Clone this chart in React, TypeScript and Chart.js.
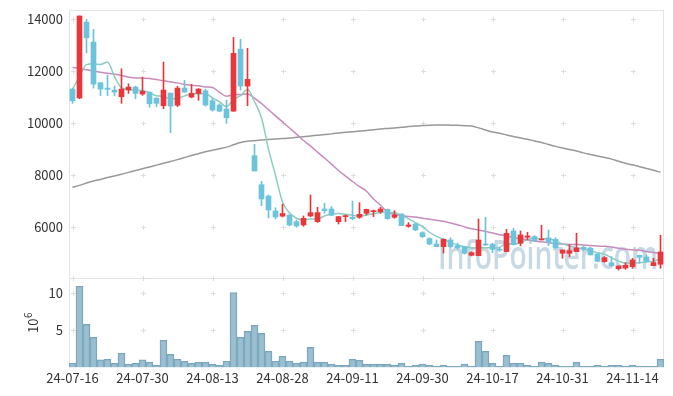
import React, { useEffect, useRef } from 'react';
import { Chart, registerables } from 'chart.js';

Chart.register(...registerables);

const dates = [
  '24-07-16', '24-07-17', '24-07-18', '24-07-19', '24-07-22', '24-07-23', '24-07-24', '24-07-25', '24-07-26', '24-07-29',
  '24-07-30', '24-07-31', '24-08-01', '24-08-02', '24-08-05', '24-08-06', '24-08-07', '24-08-08', '24-08-09', '24-08-12',
  '24-08-13', '24-08-14', '24-08-16', '24-08-19', '24-08-20', '24-08-21', '24-08-22', '24-08-23', '24-08-26', '24-08-27',
  '24-08-28', '24-08-29', '24-08-30', '24-09-02', '24-09-03', '24-09-04', '24-09-05', '24-09-06', '24-09-09', '24-09-10',
  '24-09-11', '24-09-12', '24-09-13', '24-09-19', '24-09-20', '24-09-23', '24-09-24', '24-09-25', '24-09-26', '24-09-27',
  '24-09-30', '24-10-02', '24-10-04', '24-10-07', '24-10-08', '24-10-10', '24-10-11', '24-10-14', '24-10-15', '24-10-16',
  '24-10-17', '24-10-18', '24-10-21', '24-10-22', '24-10-23', '24-10-24', '24-10-25', '24-10-28', '24-10-29', '24-10-30',
  '24-10-31', '24-11-01', '24-11-04', '24-11-05', '24-11-06', '24-11-07', '24-11-08', '24-11-11', '24-11-12', '24-11-13',
  '24-11-14', '24-11-15', '24-11-18', '24-11-19', '24-11-20',
];

const opens = [
  11312, 10970, 13885, 13117, 11554, 11350, 11274, 11017, 11274, 11389,
  11120, 11197, 10966, 10671, 11158, 10690, 11350, 11005, 11145, 11247,
  10863, 10698, 10544, 10463, 12848, 11427, 8751, 7637, 7203, 6627,
  6430, 6474, 6216, 6090, 6435, 6216, 6704, 6704, 6216, 6410,
  6384, 6384, 6538, 6602, 6602, 6691, 6384, 6512, 6038, 6128,
  5794, 5564, 5360, 5257, 5514, 5295, 5257, 4925, 4912, 5360,
  5348, 5140, 5066, 5859, 5386, 5617, 5642, 5514, 5591, 5540,
  5002, 5002, 5066, 5232, 5194, 4976, 4681, 4642, 4411, 4437,
  4489, 4925, 4860, 4527, 4579,
];
const highs = [
  11350, 14120, 13988, 13604, 11560, 11850, 11427, 12092, 11516, 11427,
  11773, 11200, 10970, 12349, 11160, 11420, 11646, 11492, 11330, 11300,
  10955, 10750, 10890, 13297, 13220, 12875, 9189, 7765, 7242, 6753,
  6890, 6480, 6282, 6435, 7242, 6768, 6922, 6794, 6420, 6474,
  7011, 6947, 6700, 6666, 6768, 6700, 6640, 6520, 6180, 6150,
  5830, 5600, 5514, 5552, 5600, 5386, 5260, 5064, 6320, 6385,
  5386, 5230, 5924, 5962, 5860, 5809, 5680, 6078, 5898, 5600,
  5130, 5334, 5770, 5280, 5230, 4980, 4874, 4873, 4515, 4642,
  4809, 4930, 4938, 4809, 5693,
];
const lows = [
  10763, 10940, 12706, 11350, 11055, 11055, 11055, 10763, 11145, 10940,
  11070, 10609, 10633, 10555, 9634, 10640, 11190, 10978, 10878, 10659,
  10463, 10440, 9994, 10460, 11274, 10671, 8163, 6831, 6358, 6320,
  6400, 6060, 6000, 6038, 6410, 6185, 6538, 6440, 6128, 6216,
  6282, 6345, 6474, 6410, 6538, 6310, 6345, 6064, 6000, 5870,
  5610, 5330, 5257, 5014, 5230, 5154, 4970, 4900, 4912, 5300,
  5026, 5080, 5066, 5320, 5283, 5514, 5450, 5514, 5296, 5190,
  4811, 4874, 5066, 5100, 4938, 4670, 4660, 4500, 4360, 4386,
  4425, 4617, 4670, 4527, 4425,
];
const closes = [
  10863, 14120, 13282, 11504, 11312, 11300, 11197, 11312, 11389, 11145,
  11223, 10748, 10763, 11274, 10659, 11350, 11197, 11145, 11312, 10698,
  10506, 10463, 10210, 12683, 11427, 11684, 8163, 7088, 6666, 6396,
  6530, 6090, 6051, 6346, 6563, 6563, 6640, 6461, 6410, 6448,
  6332, 6500, 6691, 6640, 6704, 6332, 6474, 6064, 6090, 5898,
  5640, 5360, 5257, 5540, 5257, 5219, 5002, 5026, 5514, 5320,
  5156, 5120, 5770, 5348, 5706, 5668, 5488, 5552, 5424, 5219,
  5130, 5104, 5207, 5156, 4938, 4694, 4835, 4527, 4515, 4540,
  4744, 4850, 4694, 4642, 5053,
];

const ma5 = [
  11300, 11800, 12250, 12280, 12260, 12350, 11790, 11360, 11302, 11269,
  11253, 11163, 11054, 11031, 10933, 10959, 11049, 11125, 11133, 11140,
  10972, 10825, 10638, 10912, 11058, 11293, 10833, 10209, 9006, 7999,
  6970, 6556, 6348, 6284, 6318, 6323, 6433, 6515, 6527, 6504,
  6458, 6430, 6476, 6522, 6573, 6573, 6568, 6443, 6333, 6172,
  6033, 5810, 5649, 5539, 5411, 5327, 5255, 5209, 5204, 5216,
  5204, 5227, 5376, 5343, 5420, 5522, 5596, 5552, 5568, 5470,
  5363, 5286, 5217, 5163, 5107, 5020, 4966, 4830, 4702, 4622,
  4632, 4635, 4669, 4694, 4797,
];
const ma20 = [
  12145, 12100, 12050, 12003, 11960, 11920, 11880, 11830, 11770, 11735,
  11740, 11720, 11680, 11630, 11590, 11550, 11490, 11460, 11440, 11390,
  11372, 11189, 11035, 11094, 11100, 11119, 10968, 10756, 10520, 10283,
  10049, 9816, 9580, 9334, 9129, 8889, 8662, 8427, 8182, 7970,
  7761, 7563, 7387, 7085, 6849, 6581, 6497, 6445, 6417, 6392,
  6347, 6310, 6271, 6230, 6165, 6098, 6016, 5944, 5899, 5843,
  5784, 5715, 5669, 5605, 5555, 5521, 5472, 5447, 5413, 5379,
  5354, 5341, 5339, 5319, 5303, 5277, 5269, 5244, 5194, 5155,
  5134, 5121, 5067, 5032, 4999,
];
const maLong = [
  7537, 7610, 7700, 7780, 7840, 7910, 7970, 8040, 8110, 8180,
  8250, 8320, 8390, 8460, 8530, 8600, 8680, 8760, 8830, 8900,
  8960, 9020, 9080, 9170, 9260, 9310, 9330, 9350, 9370, 9390,
  9410, 9430, 9460, 9480, 9510, 9540, 9570, 9590, 9620, 9650,
  9672, 9700, 9720, 9750, 9780, 9800, 9820, 9840, 9870, 9895,
  9910, 9925, 9930, 9930, 9925, 9917, 9905, 9890, 9820, 9740,
  9660, 9610, 9550, 9490, 9430, 9380, 9320, 9260, 9180, 9110,
  9050, 8990, 8930, 8860, 8800, 8740, 8680, 8620, 8540, 8460,
  8400, 8330, 8260, 8190, 8113,
];

// volume in millions of shares (axis unit 10^6)
const volumes = [
  0.56, 10.9, 5.77, 4.03, 1.0, 1.1, 0.56, 1.9, 0.43, 0.56,
  1.0, 0.7, 0.29, 3.63, 1.76, 1.1, 0.83, 0.56, 0.7, 0.7,
  0.43, 0.29, 0.83, 10.05, 4.03, 4.84, 5.64, 4.57, 2.17, 0.83,
  1.5, 0.83, 0.56, 0.7, 2.7, 0.7, 0.7, 0.43, 0.29, 0.29,
  1.1, 0.96, 0.43, 0.43, 0.43, 0.43, 0.29, 0.56, 0.16, 0.29,
  0.43, 0.29, 0.16, 0.29, 0.16, 0.16, 0.43, 0.16, 3.5, 2.17,
  0.56, 0.16, 1.63, 0.56, 0.56, 0.29, 0.16, 0.7, 0.56, 0.29,
  0.16, 0.16, 0.7, 0.16, 0.16, 0.29, 0.16, 0.29, 0.29, 0.16,
  0.29, 0.16, 0.16, 0.16, 1.1,
];

const priceTicks = [6000, 8000, 10000, 12000, 14000];
const volumeTicks = [5, 10];
const volumeUnitBase = '10';
const volumeUnitExp = '6';
const watermarkText = 'InfoPointer.com';

const RED = '#e8373a';
const BLUE = '#6cc3dc';
const FONT = '"Noto Sans CJK KR", "Noto Sans", sans-serif';

const decorPlugin = {
  id: 'decor',
  beforeDatasetsDraw(chart: any) {
    const { ctx, chartArea, scales } = chart;
    const y = scales.y;
    const yv = scales.yVol;
    const x = scales.x;
    const L = Math.round(chartArea.left) + 0.5;
    const R = Math.round(chartArea.right) - 0.5;
    ctx.save();
    // watermark
    ctx.fillStyle = '#c6d9e5';
    ctx.font = `600 40px "Open Sans", sans-serif`;
    ctx.textBaseline = 'alphabetic';
    const w = ctx.measureText(watermarkText).width;
    ctx.save();
    ctx.translate(chartArea.right - 226, y.bottom - 9);
    ctx.scale(220 / w, 1);
    ctx.fillText(watermarkText, 0, 0);
    ctx.restore();
    // borders
    ctx.strokeStyle = '#e4e4e4';
    ctx.lineWidth = 1;
    ctx.beginPath();
    ctx.moveTo(L, Math.round(y.top) + 0.5);
    ctx.lineTo(R, Math.round(y.top) + 0.5);
    ctx.moveTo(L, Math.round(y.bottom) + 0.5);
    ctx.lineTo(R, Math.round(y.bottom) + 0.5);
    ctx.moveTo(L, Math.round(y.top));
    ctx.lineTo(L, Math.round(yv.bottom));
    ctx.moveTo(R, Math.round(y.top));
    ctx.lineTo(R, Math.round(yv.bottom));
    ctx.stroke();
    // plus marks at grid intersections
    ctx.strokeStyle = '#dedede';
    const ys: number[] = [];
    priceTicks.forEach((v) => ys.push(y.getPixelForValue(v)));
    ys.push(y.bottom);
    volumeTicks.forEach((v) => ys.push(yv.getPixelForValue(v)));
    ctx.beginPath();
    for (let i = 0; i < dates.length; i += 10) {
      const px = Math.round(x.getPixelForValue(i)) + 0.5;
      ys.forEach((py0) => {
        const py = Math.round(py0) + 0.5;
        ctx.moveTo(px - 2.5, py);
        ctx.lineTo(px + 2.5, py);
        ctx.moveTo(px, py - 2.5);
        ctx.lineTo(px, py + 2.5);
      });
    }
    ctx.stroke();
    // volume axis unit title (rotated)
    ctx.fillStyle = '#333';
    ctx.translate(chartArea.left - 36, (yv.top + yv.bottom) / 2);
    ctx.rotate(-Math.PI / 2);
    ctx.font = `13px ${FONT}`;
    ctx.textBaseline = 'middle';
    ctx.textAlign = 'left';
    const bw = ctx.measureText(volumeUnitBase).width;
    ctx.fillText(volumeUnitBase, -bw / 2 - 3, 0);
    ctx.font = `10px ${FONT}`;
    ctx.fillText(volumeUnitExp, bw / 2 - 3 + 0.5, -5);
    ctx.restore();
  },
};

export default function App() {
  const ref = useRef<HTMLCanvasElement | null>(null);
  useEffect(() => {
    if (!ref.current) return;
    const colors = closes.map((c, i) => (c >= opens[i] ? RED : BLUE));
    const bodies = opens.map((o, i) => [o, closes[i]]);
    const wicks = lows.map((l, i) => [l, highs[i]]);
    const fitY = (s: any) => {
      s.width = 48;
      s.paddingTop = 0;
      s.paddingBottom = 0;
    };
    const chart = new Chart(ref.current, {
      type: 'bar',
      data: {
        labels: dates,
        datasets: [
          {
            type: 'bar',
            label: 'body',
            data: bodies as any,
            backgroundColor: colors,
            barThickness: 5,
            grouped: false,
            minBarLength: 1,
            yAxisID: 'y',
            order: 0,
          },
          {
            type: 'bar',
            label: 'wick',
            data: wicks as any,
            backgroundColor: colors,
            barThickness: 1,
            grouped: false,
            yAxisID: 'y',
            order: 1,
          },
          {
            type: 'line',
            label: 'MA5',
            data: ma5,
            borderColor: '#8ccdc0',
            borderWidth: 1.5,
            pointRadius: 0,
            cubicInterpolationMode: 'monotone',
            yAxisID: 'y',
            order: 2,
          },
          {
            type: 'line',
            label: 'MA20',
            data: ma20,
            borderColor: '#c88bbd',
            borderWidth: 1.5,
            pointRadius: 0,
            cubicInterpolationMode: 'monotone',
            yAxisID: 'y',
            order: 3,
          },
          {
            type: 'line',
            label: 'MA',
            data: maLong,
            borderColor: '#999999',
            borderWidth: 1.5,
            pointRadius: 0,
            cubicInterpolationMode: 'monotone',
            yAxisID: 'y',
            order: 4,
          },
          {
            type: 'bar',
            label: 'volume',
            data: volumes,
            backgroundColor: 'rgba(137,180,201,0.85)',
            borderColor: '#7aa5ba',
            borderWidth: 1,
            barPercentage: 1,
            categoryPercentage: 1,
            grouped: false,
            yAxisID: 'yVol',
            order: 5,
          },
        ],
      },
      options: {
        animation: false,
        responsive: true,
        maintainAspectRatio: false,
        layout: { padding: { left: 13, right: 1, top: 2, bottom: 2 } },
        plugins: { legend: { display: false }, tooltip: { enabled: false } },
        scales: {
          x: {
            type: 'category',
            offset: true,
            grid: { display: false, drawTicks: false },
            border: { display: false },
            ticks: {
              autoSkip: false,
              maxRotation: 0,
              padding: 3,
              color: '#333',
              font: { family: FONT, size: 13 },
              callback: (_v: any, i: number) => (i % 10 === 0 ? dates[i] : ''),
            },
          },
          yVol: {
            type: 'linear',
            position: 'left',
            stack: 'panels',
            stackWeight: 1,
            min: 0,
            max: 12,
            grid: { display: false, drawTicks: false },
            border: { display: false },
            afterBuildTicks: (s: any) => {
              s.ticks = volumeTicks.map((v) => ({ value: v }));
            },
            afterFit: fitY,
            ticks: {
              padding: 6,
              color: '#333',
              font: { family: FONT, size: 13 },
              callback: (v: any) => String(v),
            },
          },
          y: {
            type: 'linear',
            position: 'left',
            stack: 'panels',
            stackWeight: 3,
            min: 4050,
            max: 14350,
            grid: { display: false, drawTicks: false },
            border: { display: false },
            afterBuildTicks: (s: any) => {
              s.ticks = priceTicks.map((v) => ({ value: v }));
            },
            afterFit: fitY,
            ticks: {
              padding: 6,
              color: '#333',
              font: { family: FONT, size: 13 },
              callback: (v: any) => String(v),
            },
          },
        },
      } as any,
      plugins: [decorPlugin],
    });
    return () => chart.destroy();
  }, []);
  return (
    <div style={{ width: 657, height: 383 }}>
      <canvas ref={ref} />
    </div>
  );
}
